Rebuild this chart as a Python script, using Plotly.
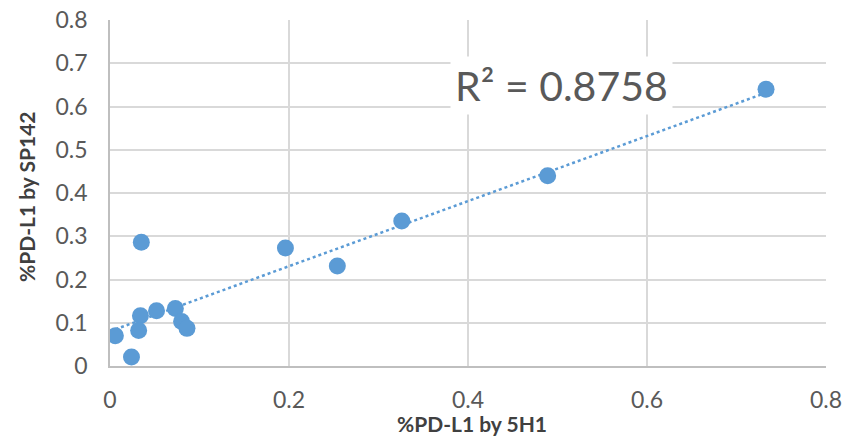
import numpy as np
import plotly.graph_objects as go

x_5h1 = [0.006, 0.024, 0.035, 0.034, 0.032, 0.052, 0.073, 0.080, 0.086, 0.196, 0.254, 0.326, 0.489, 0.733]
y_sp142 = [0.070, 0.021, 0.286, 0.116, 0.082, 0.128, 0.133, 0.103, 0.087, 0.273, 0.231, 0.335, 0.440, 0.640]
x_ticks = [0, 0.2, 0.4, 0.6, 0.8]
y_ticks = [0, 0.1, 0.2, 0.3, 0.4, 0.5, 0.6, 0.7, 0.8]
r2_label = "R² = 0.8758"
x_title = "%PD-L1 by 5H1"
y_title = "%PD-L1 by SP142"

xa = np.array(x_5h1)
ya = np.array(y_sp142)
m, b = np.polyfit(xa, ya, 1)
tx = np.array([xa.min(), xa.max()])
ty = m * tx + b

blue = "#5B9BD5"
font = "Lato, Open Sans, sans-serif"

fig = go.Figure()
fig.add_trace(go.Scatter(x=tx, y=ty, mode="lines",
                         line=dict(color=blue, width=2.5, dash="dot"),
                         hoverinfo="skip", showlegend=False))
fig.add_trace(go.Scatter(x=x_5h1, y=y_sp142, mode="markers",
                         marker=dict(color=blue, size=17), showlegend=False))

# plot area: x 110..826, y 20..366
fig.add_annotation(x=(561 - 110) / 716, y=(366 - 86) / 346, xref="paper", yref="paper",
                   xanchor="center", yanchor="middle",
                   text=r2_label, showarrow=False,
                   font=dict(family=font, size=41, color="#595959"),
                   bgcolor="white", borderpad=4)
fig.add_annotation(x=(472 - 110) / 716, y=(366 - 423) / 346, xref="paper", yref="paper",
                   xanchor="center", yanchor="middle",
                   text="<b>" + x_title + "</b>", showarrow=False,
                   font=dict(family=font, size=21, color="#404040"))
fig.add_annotation(x=(26 - 110) / 716, y=(366 - 197) / 346, xref="paper", yref="paper",
                   xanchor="center", yanchor="middle", textangle=-90,
                   text="<b>" + y_title + "</b>", showarrow=False,
                   font=dict(family=font, size=21, color="#404040"))

axis_common = dict(showgrid=True, gridcolor="#D9D9D9", gridwidth=1.5,
                   zeroline=False, showline=True, linecolor="#BFBFBF", linewidth=1.5,
                   ticks="", tickfont=dict(family=font, size=23, color="#595959"),
                   mirror=False, automargin=False)

fig.update_xaxes(range=[0, 0.8], tickvals=x_ticks, ticktext=["0", "0.2", "0.4", "0.6", "0.8"],
                 ticklabelstandoff=13, **axis_common)
fig.update_yaxes(range=[0, 0.8], tickvals=y_ticks, ticktext=["0", "0.1", "0.2", "0.3", "0.4", "0.5", "0.6", "0.7", "0.8"],
                 ticklabelstandoff=16, **axis_common)

fig.update_layout(width=846, height=437,
                  margin=dict(l=110, r=20, t=20, b=71),
                  plot_bgcolor="white", paper_bgcolor="white")

fig.write_html("out.html", config={"displayModeBar": False},
               post_script="document.body.style.margin='0';")
